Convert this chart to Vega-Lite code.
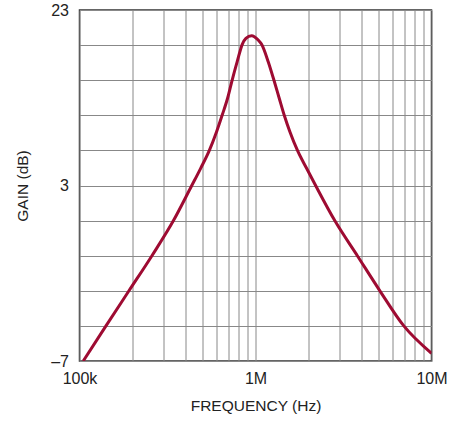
{
  "$schema": "https://vega.github.io/schema/vega-lite/v6.json",
  "width": 352,
  "height": 351,
  "autosize": {"type": "none"},
  "padding": {"left": 79.5, "top": 10, "right": 29.5, "bottom": 60},
  "background": "white",
  "config": {
    "view": {"stroke": "#333333", "strokeWidth": 1.5},
    "font": "Liberation Sans",
    "axis": {
      "labelFont": "Liberation Sans",
      "titleFont": "Liberation Sans",
      "labelFontSize": 16,
      "titleFontSize": 15.5,
      "titleFontWeight": "normal",
      "labelColor": "#222222",
      "titleColor": "#222222",
      "gridColor": "#888888",
      "gridWidth": 1,
      "gridOpacity": 1,
      "domain": false,
      "ticks": false,
      "labelOverlap": false,
      "labelFlush": false
    }
  },
  "data": {
    "values": [
      {"f": 105000, "gain": -7.0},
      {"f": 141400, "gain": -5.0},
      {"f": 191000, "gain": -3.0},
      {"f": 258000, "gain": -1.0},
      {"f": 342000, "gain": 1.0},
      {"f": 433000, "gain": 2.97},
      {"f": 488000, "gain": 4.96},
      {"f": 546000, "gain": 6.97},
      {"f": 601000, "gain": 9.13},
      {"f": 647000, "gain": 11.03},
      {"f": 694000, "gain": 12.94},
      {"f": 737000, "gain": 15.02},
      {"f": 787000, "gain": 17.11},
      {"f": 841000, "gain": 19.09},
      {"f": 882000, "gain": 19.77},
      {"f": 950000, "gain": 20.07},
      {"f": 1036000, "gain": 19.58},
      {"f": 1083000, "gain": 19.09},
      {"f": 1181000, "gain": 17.11},
      {"f": 1272000, "gain": 15.02},
      {"f": 1364000, "gain": 12.94},
      {"f": 1455000, "gain": 11.03},
      {"f": 1568000, "gain": 9.13},
      {"f": 1734000, "gain": 6.97},
      {"f": 1951000, "gain": 4.96},
      {"f": 2203000, "gain": 2.97},
      {"f": 2820000, "gain": 1.0},
      {"f": 3790000, "gain": -1.0},
      {"f": 5090000, "gain": -3.0},
      {"f": 6960000, "gain": -5.0},
      {"f": 10000000, "gain": -6.56}
    ]
  },
  "mark": {"type": "line", "color": "#9e0b32", "strokeWidth": 3, "interpolate": "monotone", "clip": true},
  "encoding": {
    "x": {
      "field": "f",
      "type": "quantitative",
      "scale": {"type": "log", "domain": [100000, 10000000], "nice": false},
      "axis": {
        "title": "FREQUENCY (Hz)",
        "values": [100000, 200000, 300000, 400000, 500000, 600000, 700000, 800000, 900000, 1000000, 2000000, 3000000, 4000000, 5000000, 6000000, 7000000, 8000000, 9000000, 10000000],
        "labelExpr": "datum.value == 100000 ? '100k' : (datum.value == 1000000 ? '1M' : (datum.value == 10000000 ? '10M' : ''))",
        "labelPadding": 9,
        "titleX": 176,
        "titleY": 44,
        "titleBaseline": "middle"
      }
    },
    "y": {
      "field": "gain",
      "type": "quantitative",
      "scale": {"type": "linear", "domain": [-7, 3, 23], "range": [351, 175.5, 0], "nice": false, "zero": false},
      "axis": {
        "title": "GAIN (dB)",
        "values": [-7, -5, -3, -1, 1, 3, 7, 11, 15, 19, 23],
        "labelExpr": "datum.value == -7 ? '–7' : ((datum.value == 3 || datum.value == 23) ? '' + datum.value : '')",
        "labelPadding": 11,
        "titleX": -57,
        "titleY": 175.5,
        "titleAngle": -90,
        "titleBaseline": "middle"
      }
    }
  }
}
